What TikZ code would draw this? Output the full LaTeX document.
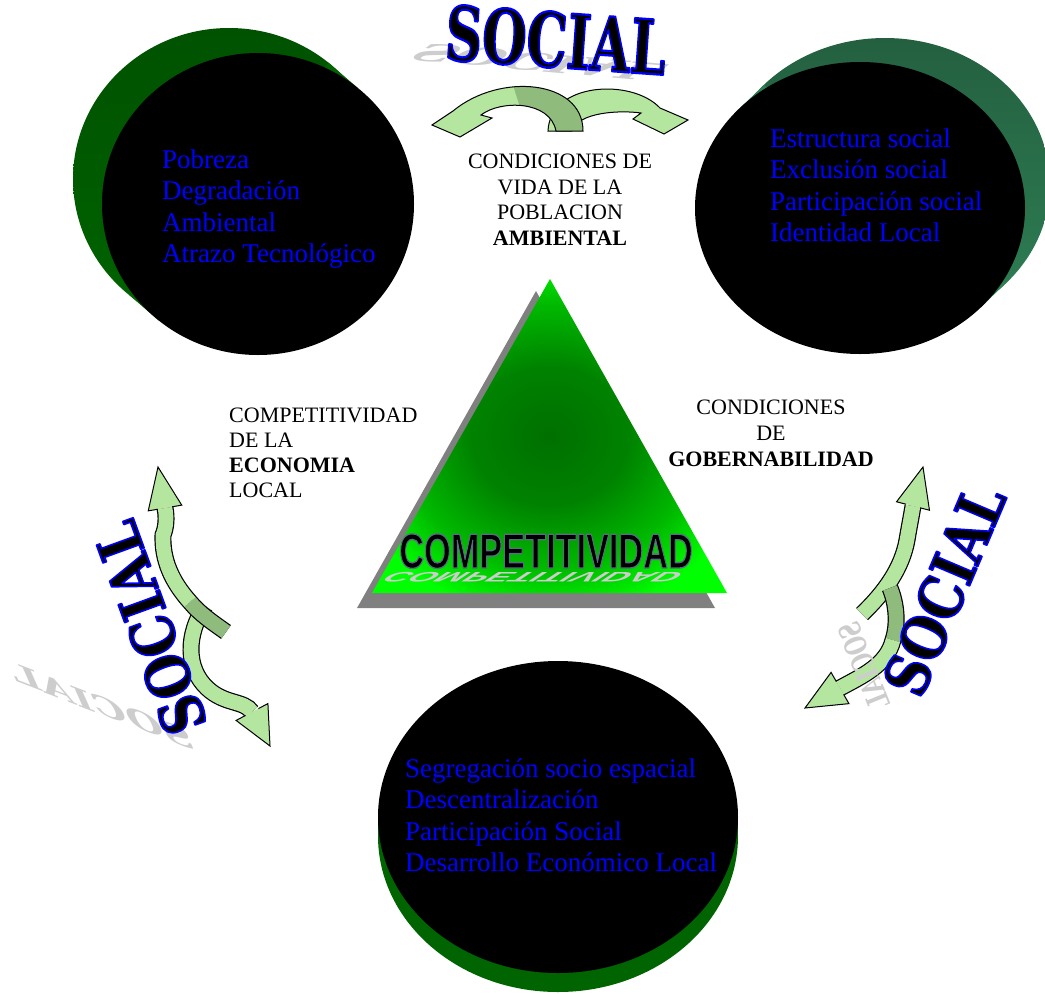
\documentclass[tikz,border=0pt]{standalone}
\usepackage{fontspec}
\setmainfont{Liberation Serif}
\newfontfamily\socialfont{DejaVu Serif Bold}
\newfontfamily\compfont{Liberation Sans Bold}
\usetikzlibrary{calc}
\definecolor{lgreen}{RGB}{181,230,160}
\definecolor{dgreen}{RGB}{143,188,125}
\definecolor{wablue}{RGB}{0,0,255}
\definecolor{cgreenA}{RGB}{0,100,0}
\definecolor{cgreenAtop}{RGB}{0,82,0}
\definecolor{cgreenB}{RGB}{46,128,85}
\definecolor{cgreenBtop}{RGB}{36,96,64}
\definecolor{shadowgray}{RGB}{205,205,205}
\definecolor{trigray}{RGB}{128,128,128}
\definecolor{brightgreen}{RGB}{0,255,0}
\definecolor{tgA}{RGB}{0,112,0}
\definecolor{tgB}{RGB}{0,130,0}
\definecolor{tgC}{RGB}{0,185,0}
\pgfdeclareradialshading{trishade}{\pgfpoint{0bp}{0bp}}{%
  color(0bp)=(tgA);
  color(11bp)=(tgB);
  color(21bp)=(tgC);
  color(29bp)=(brightgreen);
  color(50bp)=(brightgreen)}
% outlined text: black fill, coloured stroke (text render mode 2)
\newcommand\outlined[3]{{\color{black}\special{pdf:literal direct 2 Tr #1 RG #2 w 1 j}#3\special{pdf:literal direct 0 Tr}}}
\newcommand\socialtxt{\outlined{0 0 1}{2.2}{SOCIAL}}
\newcommand\arrhead[5]{\filldraw[fill=#5, draw=black, line width=1pt, line join=miter]
  ($(#1)!#3!90:(#2)$) -- ($(#1)!#4!90:(#2)$) -- (#2) -- ($(#1)!#4!-90:(#2)$) -- ($(#1)!#3!-90:(#2)$);}
\def\arrowRpath{(548,131) .. controls (550,82) and (632,78) .. (660,108) -- (688,120) -- (664,134) -- (633,119) -- (641,113) .. controls (620,110) and (578,112) .. (572,131) -- cycle}
\def\arrowLpath{(583,131) .. controls (583,80) and (500,72) .. (453,111) -- (432,125) -- (460,137) -- (492,118) -- (481,115) .. controls (500,100) and (550,100) .. (556,131) -- cycle}
\begin{document}
\begin{tikzpicture}[x=1pt,y=-1pt,
  wordart/.style={inner sep=0pt, font=\socialfont\fontsize{75}{80}\selectfont},
  shadowart/.style={inner sep=0pt, text=shadowgray, font=\socialfont\fontsize{75}{80}\selectfont},
  circletext/.style={inner sep=0pt, anchor=north west, align=left, text=wablue, font=\fontsize{27}{31.4}\selectfont},
  lbl/.style={inner sep=0pt, font=\fontsize{22}{25.7}\selectfont},
  bandout/.style={line width=17pt, draw=black},
  bandin/.style={line width=14.6pt, draw=lgreen},
  bandinD/.style={line width=14.6pt, draw=dgreen},
  arrowshape/.style={draw=black, line width=1pt, line join=miter}]
\useasboundingbox (0,0) rectangle (1045,994);
\clip (0,0) rectangle (1045,994);
\fill[white] (0,0) rectangle (1045,994);

% ---- top-left disc
\shade[top color=cgreenAtop, bottom color=cgreenA] (229,179) ellipse [x radius=156, y radius=151];
\fill[cgreenA] (328.5,62.7) -- (357.5,87.7) -- (158.5,320.3) -- (129.5,295.3) -- cycle;
\fill[black] (258,204) ellipse [x radius=156, y radius=151];

% ---- top-right disc
\shade[top color=cgreenBtop, bottom color=cgreenB] (885,184) ellipse [x radius=165, y radius=146];
\fill[cgreenB] (739,109) -- (764,85) -- (1006,283) -- (981,307) -- cycle;
\fill[black] (860,208) ellipse [x radius=165, y radius=146];

% ---- bottom disc
\fill[cgreenA] (558,836) ellipse [x radius=180, y radius=156];
\fill[cgreenA] (378,817) -- (738,817) -- (738,836) -- (378,836) -- cycle;
\fill[black] (558,817) ellipse [x radius=180, y radius=156];

% ---- disc texts
\node[circletext] (tl) at (162,149.6) {Pobreza\\Degradación\\Ambiental\\Atrazo Tecnológico};
\node[circletext] (tr) at (770,128.6) {Estructura social\\Exclusión social\\Participación social\\Identidad Local};
\node[circletext] (bt) at (405,758.6) {Segregación socio espacial\\Descentralización\\Participación Social\\Desarrollo Económico Local};

% ---- triangle
\fill[trigray] (536,291) -- (357,608) -- (715,608) -- cycle;
\shade[shading=trishade] (550,279) -- (372,593) -- (727,593) -- cycle;
\node[inner sep=0pt, anchor=base, xscale=0.7, yscale=-0.28, xslant=-0.6, text=shadowgray, font=\compfont\fontsize{49}{50}\selectfont] (comps) at (540,572) {COMPETITIVIDAD};
\node[inner sep=0pt, anchor=base, xscale=0.7, font=\compfont\fontsize{49}{50}\selectfont] (comp) at (546,568) {\outlined{0.35 0.43 0.51}{1.4}{COMPETITIVIDAD}};

% ---- labels
\node[lbl, align=center, anchor=north] (vida) at (560,153.8) {CONDICIONES DE\\VIDA DE LA\\POBLACION\\\textbf{AMBIENTAL}};
\node[lbl, align=left, anchor=north west, font=\fontsize{22}{25}\selectfont] (eco) at (229,407.8) {COMPETITIVIDAD\\DE LA\\\textbf{ECONOMIA}\\LOCAL};
\node[lbl, align=center, anchor=north, font=\fontsize{22}{26}\selectfont] (gob) at (771,399.8) {CONDICIONES\\DE\\\textbf{GOBERNABILIDAD}};

% ---- top curved arrows
\filldraw[fill=lgreen, arrowshape] \arrowRpath;
\fill[lgreen] \arrowLpath;
\begin{scope}
  \clip (505,60) -- (700,60) -- (700,145) -- (532,145) -- cycle;
  \fill[dgreen] \arrowLpath;
\end{scope}
\draw[arrowshape] \arrowLpath;

% ---- left S arrows
\coordinate (LlM) at (252,712); \coordinate (LlT) at (270,746);
\draw[bandout] (205,606) .. controls (186,635) and (186,668) .. (207,688) .. controls (225,705) and (244,700) .. (LlM);
\draw[bandin] (205,606) .. controls (186,635) and (186,668) .. (207,688) .. controls (225,705) and (244,700) .. (LlM);
\arrhead{LlM}{LlT}{7.3pt}{18pt}{lgreen}
\coordinate (LuM) at (165,508); \coordinate (LuT) at (158,467);
\draw[bandout] (226,632) .. controls (212,622) and (200,614) .. (190,602) .. controls (172,582) and (162,560) .. (163,535) .. controls (166,528) and (167,518) .. (LuM);
\draw[bandinD] (226,632) .. controls (212,622) and (200,614) .. (190,602);
\draw[bandin] (190,602) .. controls (172,582) and (162,560) .. (163,535) .. controls (166,528) and (167,518) .. (LuM);
\arrhead{LuM}{LuT}{7.3pt}{17pt}{lgreen}

% ---- right S arrows
\coordinate (RuM) at (913,506); \coordinate (RuT) at (923,467);
\draw[bandout] (862,614) .. controls (885,592) and (902,568) .. (907,540) .. controls (909,528) and (911,518) .. (RuM);
\draw[bandin] (862,614) .. controls (885,592) and (902,568) .. (907,540) .. controls (909,528) and (911,518) .. (RuM);
\arrhead{RuM}{RuT}{7.3pt}{17pt}{lgreen}
\coordinate (RlM) at (840,688); \coordinate (RlT) at (805,708);
\draw[bandout] (890,588) .. controls (897,605) and (898,625) .. (893,640) .. controls (887,665) and (862,676) .. (RlM);
\draw[bandinD] (890,588) .. controls (897,605) and (898,625) .. (893,640);
\draw[bandin] (893,640) .. controls (887,665) and (862,676) .. (RlM);
\arrhead{RlM}{RlT}{7.3pt}{18pt}{lgreen}

% ---- SOCIAL word art
\node[shadowart, rotate=-5, xscale=0.75, yscale=-0.33, xslant=-0.5] (socTs) at (538,62) {SOCIAL};
\node[wordart, rotate=-4, xscale=0.68] (socT) at (556,40) {\socialtxt};
\node[shadowart, rotate=-21, xscale=-0.6, yscale=0.3, xslant=0.5] (socLs) at (102,706) {SOCIAL};
\node[wordart, rotate=110, xscale=0.68, yscale=0.8] (socL) at (150,628) {\socialtxt};
\node[shadowart, rotate=112, xscale=-0.28, yscale=0.4] (socRs) at (864,666) {SOCIAL};
\node[wordart, rotate=67, xscale=0.68, yscale=0.8] (socR) at (944,590) {\socialtxt};
\end{tikzpicture}
\end{document}
